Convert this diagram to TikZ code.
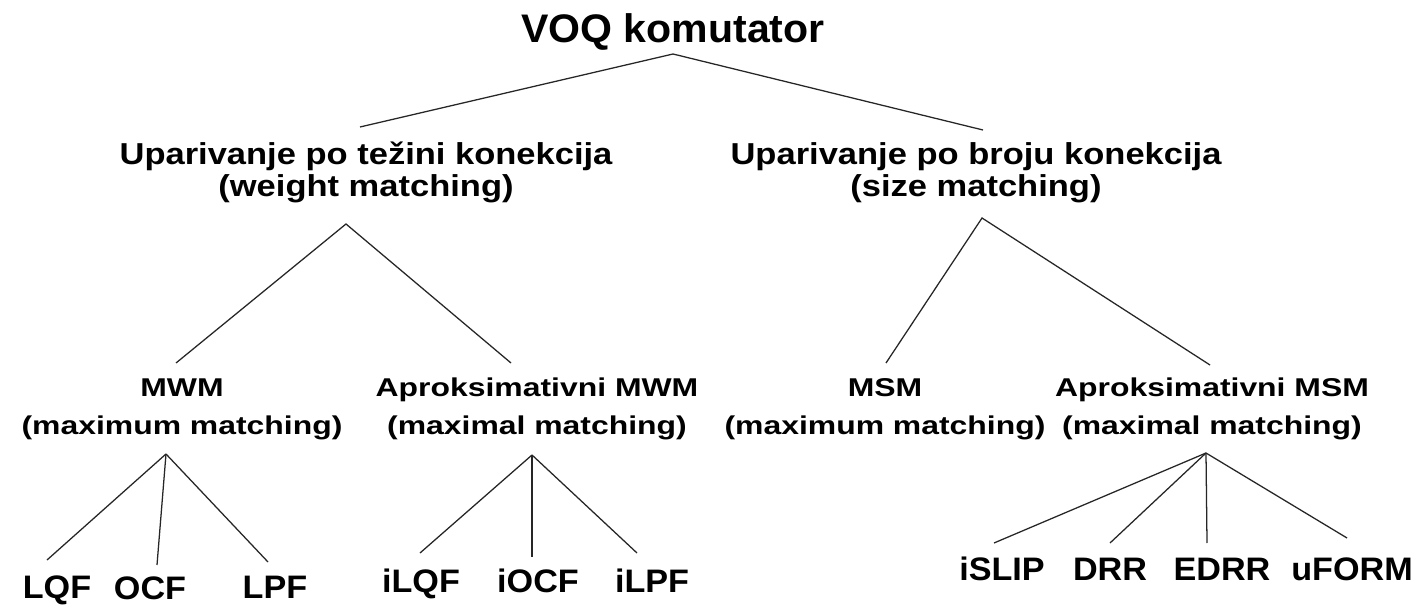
\documentclass[tikz,border=0pt]{standalone}
\usepackage{fontspec}
\newfontfamily\fTop{Liberation Sans}[FakeStretch=1.03]
\newfontfamily\fTwo{Liberation Sans}[FakeStretch=1.14]
\newfontfamily\fThree{Liberation Sans}[FakeStretch=1.24]
\newfontfamily\fFour{Liberation Sans}[FakeStretch=1.05]
\tikzset{
  lvA/.style={font=\fTop\bfseries\fontsize{29.9}{36}\selectfont, inner sep=0pt, anchor=base},
  lvB/.style={font=\fTwo\bfseries\fontsize{22.7}{24}\selectfont, inner sep=0pt, align=center, anchor=base},
  lvC/.style={font=\fThree\bfseries\fontsize{19.3}{28.5}\selectfont, inner sep=0pt, align=center, anchor=base},
  lvD/.style={font=\fFour\bfseries\fontsize{24.4}{28}\selectfont, inner sep=0pt, anchor=base},
  link/.style={line width=0.95pt, black!85}
}
\begin{document}
\begin{tikzpicture}[x=0.75pt, y=-0.75pt]
\useasboundingbox (0,0) rectangle (1420,605);
\fill[white] (0,0) rectangle (1420,605);
% nodes (base anchor = baseline of the last line)
\node[lvA] (voq) at (673,43) {VOQ komutator};
\node[lvB] (wm) at (366,197) {Uparivanje po težini konekcija\\(weight matching)};
\node[lvB] (sm) at (976,197) {Uparivanje po broju konekcija\\(size matching)};
\node[lvC] (mwm) at (182,435) {MWM\\(maximum matching)};
\node[lvC] (amwm) at (537,435) {Aproksimativni MWM\\(maximal matching)};
\node[lvC] (msm) at (885,435) {MSM\\(maximum matching)};
\node[lvC] (amsm) at (1212,435) {Aproksimativni MSM\\(maximal matching)};
\node[lvD] (lqf) at (57,598) {LQF};
\node[lvD] (ocf) at (150,599.5) {OCF};
\node[lvD] (lpf) at (275,598) {LPF};
\node[lvD] (ilqf) at (421,592) {iLQF};
\node[lvD] (iocf) at (538,592) {iOCF};
\node[lvD] (ilpf) at (652,592) {iLPF};
\node[lvD] (islip) at (1002,580) {iSLIP};
\node[lvD] (drr) at (1110,580) {DRR};
\node[lvD] (edrr) at (1222,580) {EDRR};
\node[lvD] (uform) at (1352,580) {uFORM};
% connector ends
\coordinate (voq-s) at (673,54);
\coordinate (wm-n) at (360,127);
\coordinate (sm-n) at (983,130);
\coordinate (wm-s) at (346,224);
\coordinate (sm-s) at (982,218);
\coordinate (mwm-n) at (176,363);
\coordinate (amwm-n) at (511,363);
\coordinate (msm-n) at (886,363);
\coordinate (amsm-n) at (1210,365);
\coordinate (mwm-s) at (166,454);
\coordinate (amwm-s) at (532,455);
\coordinate (amsm-s) at (1206,453);
\coordinate (lqf-n) at (47,560);
\coordinate (ocf-n) at (157,565);
\coordinate (lpf-n) at (268,562);
\coordinate (ilqf-n) at (420,553);
\coordinate (iocf-n) at (532,557);
\coordinate (ilpf-n) at (637,553);
\coordinate (islip-n) at (994,543);
\coordinate (drr-n) at (1110,543);
\coordinate (edrr-n) at (1207,543);
\coordinate (uform-n) at (1347,538);
% connectors
\draw[link] (wm-n) -- (voq-s) -- (sm-n);
\draw[link] (mwm-n) -- (wm-s) -- (amwm-n);
\draw[link] (msm-n) -- (sm-s) -- (amsm-n);
\draw[link] (mwm-s) -- (lqf-n);
\draw[link] (mwm-s) -- (ocf-n);
\draw[link] (mwm-s) -- (lpf-n);
\draw[link] (amwm-s) -- (ilqf-n);
\draw[link] (amwm-s) -- (iocf-n);
\draw[link] (amwm-s) -- (ilpf-n);
\draw[link] (amsm-s) -- (islip-n);
\draw[link] (amsm-s) -- (drr-n);
\draw[link] (amsm-s) -- (edrr-n);
\draw[link] (amsm-s) -- (uform-n);
\end{tikzpicture}
\end{document}
